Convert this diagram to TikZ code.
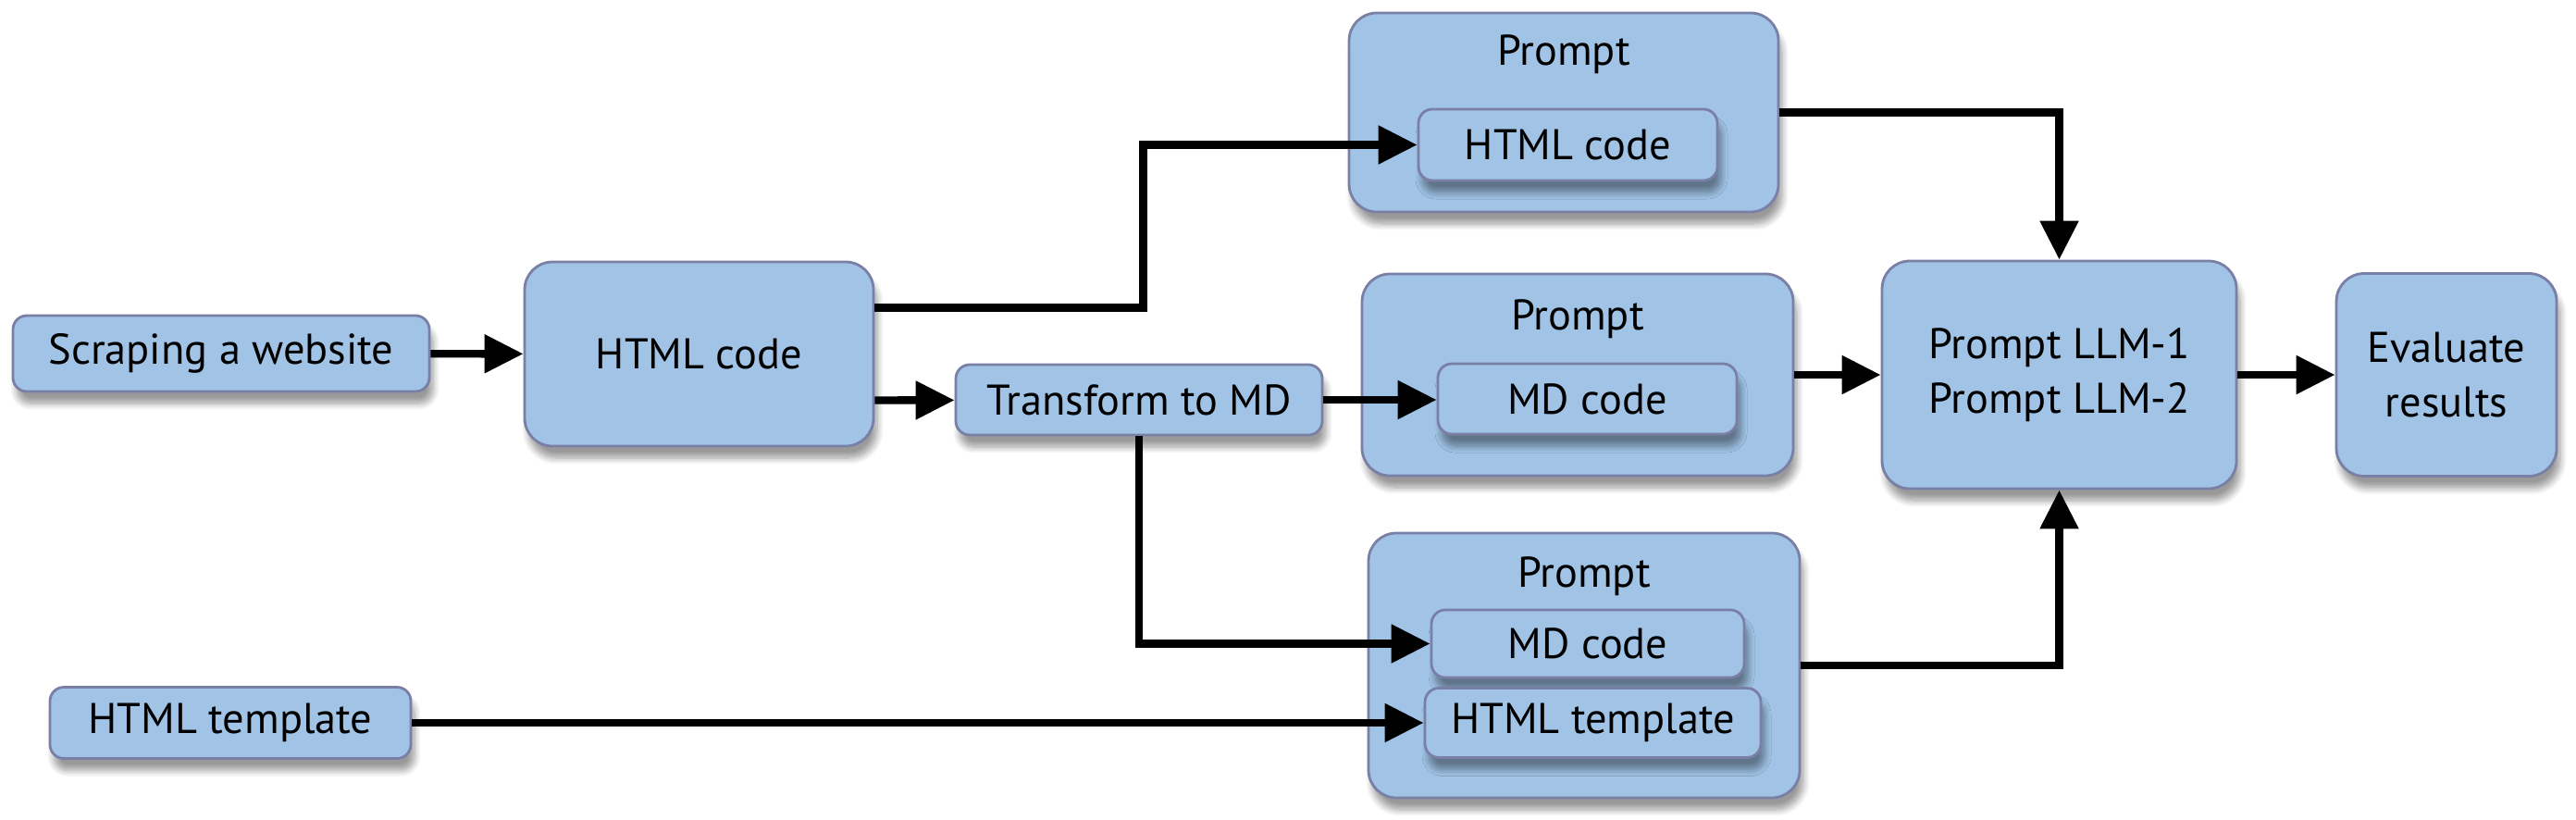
\documentclass[tikz,border=0pt]{standalone}
\usepackage{fontspec}
\setmainfont{PT Sans}
\usetikzlibrary{arrows.meta,shadows.blur}
\definecolor{boxfill}{HTML}{A0C3E6}
\definecolor{boxline}{HTML}{7A7FA6}

\begin{document}
\begin{tikzpicture}[
    txt/.style={font=\fontsize{13.2}{16.8}\selectfont, align=center},
    box/.style={txt, draw=boxline, fill=boxfill, line width=0.8pt, rounded corners=0.15cm, inner sep=0pt,
        blur shadow={shadow xshift=0.4mm, shadow yshift=-1.3mm, shadow opacity=40, shadow blur steps=8}},
    bigbox/.style={box, rounded corners=0.3cm},
    arr/.style={line width=2.4pt, -{Triangle[length=4.2mm, width=4mm]}}
]
    \useasboundingbox (0,0) rectangle (27.84,8.85);

    \node[box, minimum width=4.50cm, minimum height=0.82cm] (scrape) at (2.39,5.03) {Scraping a website};
    \node[bigbox, minimum width=3.77cm, minimum height=1.99cm] (html) at (7.555,5.025) {HTML code};
    \node[box, minimum width=3.96cm, minimum height=0.76cm] (trans) at (12.31,4.53) {Transform to MD};
    \node[box, minimum width=3.90cm, minimum height=0.77cm] (tmpl) at (2.49,1.04) {HTML template};

    \node[bigbox, minimum width=4.64cm, minimum height=2.15cm] (ptop) at (16.90,7.635) {};
    \node[txt] (ptopl) at (16.90,8.26) {Prompt};
    \node[box, minimum width=3.23cm, minimum height=0.77cm] (itop) at (16.945,7.285) {HTML code};

    \node[bigbox, minimum width=4.66cm, minimum height=2.18cm] (pmid) at (17.05,4.80) {};
    \node[txt] (pmidl) at (17.05,5.40) {Prompt};
    \node[box, minimum width=3.23cm, minimum height=0.76cm] (imid) at (17.155,4.54) {MD code};

    \node[bigbox, minimum width=4.66cm, minimum height=2.86cm] (pbot) at (17.12,1.66) {};
    \node[txt] (pbotl) at (17.12,2.62) {Prompt};
    \node[box, minimum width=3.38cm, minimum height=0.73cm] (ibmd) at (17.16,1.895) {MD code};
    \node[box, minimum width=3.63cm, minimum height=0.75cm] (ibht) at (17.215,1.04) {HTML template};

    \node[bigbox, minimum width=3.83cm, minimum height=2.46cm] (llm) at (22.255,4.80) {Prompt LLM-1\\Prompt LLM-2};
    \node[bigbox, minimum width=2.38cm, minimum height=2.19cm] (eval) at (26.44,4.80) {Evaluate\\results};

    \draw[arr] (scrape) -- (html);
    \draw[arr] ([yshift=5mm]html.east) -- ++(2.9,0) |- (itop);
    \draw[arr] ([yshift=-5mm]html.east) -- (trans);
    \draw[arr] (trans.east) -- (trans.east -| imid.west);
    \draw[arr] (trans) |- (ibmd);
    \draw[arr] (tmpl) -- (ibht);
    \draw[arr] (ptop) -| (llm);
    \draw[arr] (pmid) -- (llm);
    \draw[arr] (pbot) -| (llm);
    \draw[arr] (llm) -- (eval);
\end{tikzpicture}
\end{document}
